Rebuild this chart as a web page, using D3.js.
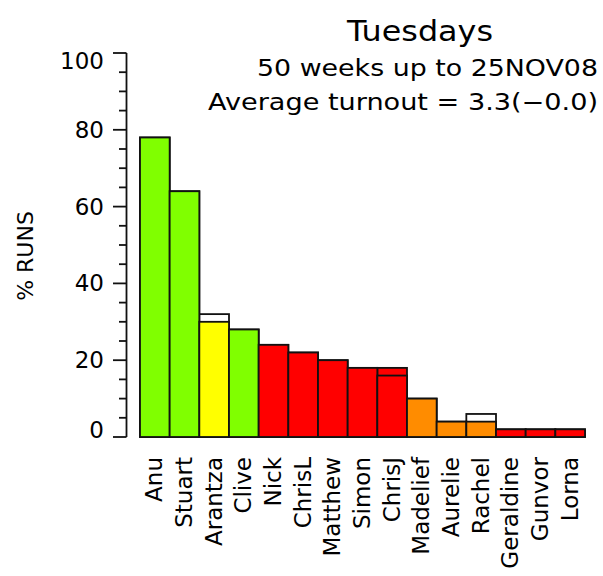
<!DOCTYPE html>
<html>
<head>
<meta charset="utf-8">
<script src="https://cdn.jsdelivr.net/npm/d3@7"></script>
<style>
html,body{margin:0;padding:0;background:#fff;}
text{font-family:"DejaVu Sans",sans-serif;fill:#000;}
</style>
</head>
<body>
<svg id="chart" width="603" height="576"></svg>
<script>
// ---- data ----
const names = ["Anu","Stuart","Arantza","Clive","Nick","ChrisL","Matthew","Simon","ChrisJ","Madelief","Aurelie","Rachel","Geraldine","Gunvor","Lorna"];
const values = [78,64,30,28,24,22,20,18,16,10,4,4,2,2,2];
const prevValues = [78,64,32,28,24,22,20,18,18,10,4,6,2,2,2];
const barColors = ["#80ff00","#80ff00","#ffff00","#80ff00","#ff0000","#ff0000","#ff0000","#ff0000","#ff0000","#ff8c00","#ff8c00","#ff8c00","#ff0000","#ff0000","#ff0000"];
const prevColors = ["#ffffff","#ffffff","#ffffff","#ffffff","#ffffff","#ffffff","#ffffff","#ffffff","#ff0000","#ffffff","#ffffff","#ffffff","#ffffff","#ffffff","#ffffff"];
const yTicks = [0,20,40,60,80,100];
const yMinorTicks = d3.range(0,101,5);
const title = "Tuesdays";
const subtitle1 = "50 weeks up to 25NOV08";
const subtitle2 = "Average turnout = 3.3(\u22120.0)";
const yLabel = "% RUNS";

// ---- layout ----
const svg = d3.select("#chart");
const x = d3.scaleBand().domain(names).range([140,585]).padding(0);
const y = d3.scaleLinear().domain([0,100]).range([437,53]);

// bars: previous (behind) then current
const g = svg.append("g");
g.selectAll("rect.prev").data(names).join("rect")
  .attr("class","prev")
  .attr("x", d => x(d))
  .attr("width", x.bandwidth())
  .attr("y", (d,i) => y(prevValues[i]))
  .attr("height", (d,i) => y(0) - y(prevValues[i]))
  .attr("fill", (d,i) => prevColors[i])
  .attr("stroke","#111").attr("stroke-width",1.8);
g.selectAll("rect.cur").data(names).join("rect")
  .attr("class","cur")
  .attr("x", d => x(d))
  .attr("width", x.bandwidth())
  .attr("y", (d,i) => y(values[i]))
  .attr("height", (d,i) => y(0) - y(values[i]))
  .attr("fill", (d,i) => barColors[i])
  .attr("stroke","#111").attr("stroke-width",1.8);

// y axis
const ax = svg.append("g");
ax.append("line").attr("x1",126.5).attr("x2",126.5).attr("y1",y(100)).attr("y2",y(0))
  .attr("stroke","#111").attr("stroke-width",1.8);
ax.selectAll("line.minor").data(yMinorTicks.filter(v => v % 20 !== 0)).join("line")
  .attr("x1",119).attr("x2",126.5)
  .attr("y1",d=>y(d)).attr("y2",d=>y(d))
  .attr("stroke","#111").attr("stroke-width",1.8);
ax.selectAll("line.major").data(yTicks).join("line")
  .attr("x1",113).attr("x2",126.5)
  .attr("y1",d=>y(d)).attr("y2",d=>y(d))
  .attr("stroke","#111").attr("stroke-width",1.8);
ax.selectAll("text").data(yTicks).join("text")
  .attr("x",104)
  .attr("y",d=>Math.max(y(100)+8, Math.min(y(0)-7, y(d))))
  .attr("text-anchor","end")
  .attr("dominant-baseline","central")
  .attr("font-size",23)
  .text(d=>d);

// y label
svg.append("text")
  .attr("transform","translate(33,256) rotate(-90)")
  .attr("text-anchor","middle")
  .attr("font-size",22)
  .text(yLabel);

// x labels
svg.selectAll("text.xl").data(names).join("text")
  .attr("class","xl")
  .attr("transform", d => `translate(${x(d)+x.bandwidth()/2+7.5},457) rotate(-90)`)
  .attr("text-anchor","end")
  .attr("font-size",23)
  .text(d=>d);

// titles
svg.append("text").attr("x",420).attr("y",41).attr("text-anchor","middle")
  .attr("font-size",29).attr("textLength",146).attr("lengthAdjust","spacingAndGlyphs").text(title);
svg.append("text").attr("x",598).attr("y",76).attr("text-anchor","end")
  .attr("font-size",23).attr("textLength",341).attr("lengthAdjust","spacingAndGlyphs").text(subtitle1);
svg.append("text").attr("x",598).attr("y",110).attr("text-anchor","end")
  .attr("font-size",23).attr("textLength",390).attr("lengthAdjust","spacingAndGlyphs").text(subtitle2);
</script>
</body>
</html>
